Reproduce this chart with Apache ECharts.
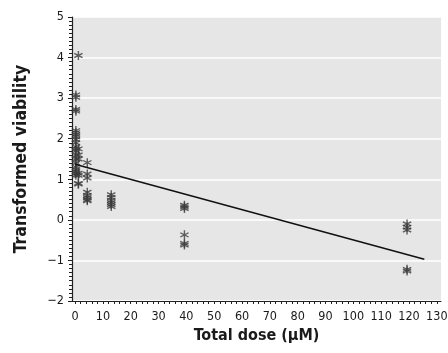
<!DOCTYPE html>
<html><head><meta charset="utf-8">
<script src="https://cdn.jsdelivr.net/npm/echarts@6/dist/echarts.min.js"></script>
<style>html,body{margin:0;padding:0;background:#fff}#c{width:448px;height:353px}</style>
</head><body><div id="c"></div>
<script>
// Data
const doses = [
  0.3,0.3,0.3,0.3,0.3,0.3,0.3,0.3,0.3,0.3,0.3,0.3,0.3,0.3,0.3,0.3,0.3,0.3,0.3,0.3,0.3,
  1.2,1.2,1.2,1.2,1.2,1.2,1.2,1.2,
  4.4,4.4,4.4,4.4,4.4,4.4,4.4,4.4,
  13,13,13,13,13,13,
  39.3,39.3,39.3,39.3,39.3,39.3,
  119.3,119.3,119.3,119.3,119.3
];
const viability = [
  3.08,3.02,2.72,2.68,2.2,2.15,2.1,2.05,1.98,1.9,1.8,1.75,1.7,1.6,1.5,1.4,1.3,1.25,1.2,1.15,1.1,
  4.05,1.75,1.6,1.5,1.15,1.1,0.9,0.88,
  1.41,1.13,1.03,0.68,0.6,0.55,0.5,0.47,
  0.62,0.55,0.48,0.43,0.38,0.33,
  0.36,0.32,0.28,-0.37,-0.58,-0.62,
  -0.1,-0.18,-0.25,-1.22,-1.26
];
const fitX = [0, 125.5];
const fitY = [1.37, -0.97];
const xTickLabels = [0,10,20,30,40,50,60,70,80,90,100,110,120,130];
const xMinorTicks = [];
for (let v = 0; v <= 130; v += 2) xMinorTicks.push(v);

const FONT = '"DejaVu Sans Condensed","Liberation Sans Narrow","Liberation Sans",sans-serif';
const star = 'path://M8.5,0L11.5,0L11.5,20L8.5,20Z M0.5,6.6L2,4L19.5,13.4L18,16Z M18,4L19.5,6.6L2,16L0.5,13.4Z';

const chart = echarts.init(document.getElementById('c'), null, {renderer: 'canvas'});
chart.setOption({
  animation: false,
  grid: {left: 72, right: 7, top: 17, bottom: 52, show: true, backgroundColor: '#e6e6e6', borderWidth: 0,
         outerBoundsMode: 'none', containLabel: false},
  xAxis: {
    type: 'value', min: -1.1, max: 131.5,
    name: 'Total dose (\u03bcM)', nameLocation: 'middle', nameGap: 27,
    nameTextStyle: {fontFamily: FONT, fontWeight: 'bold', fontSize: 16, color: '#1a1a1a', verticalAlign: 'top'},
    axisLine: {show: true, onZero: false, lineStyle: {color: '#222', width: 1.2}},
    axisTick: {show: true, customValues: xMinorTicks, length: 3, lineStyle: {color: '#222'}},
    axisLabel: {customValues: xTickLabels, fontFamily: FONT, fontSize: 12.5, color: '#1a1a1a', margin: 9, hideOverlap: false},
    splitLine: {show: false}
  },
  yAxis: {
    type: 'value', min: -2, max: 5, interval: 1,
    name: 'Transformed viability', nameLocation: 'middle', nameGap: 42,
    nameTextStyle: {fontFamily: FONT, fontWeight: 'bold', fontSize: 17.5, color: '#1a1a1a'},
    axisLine: {show: true, onZero: false, lineStyle: {color: '#222', width: 1.2}},
    axisTick: {show: true, length: 4, lineStyle: {color: '#222'}},
    minorTick: {show: true, splitNumber: 10, length: 3, lineStyle: {color: '#222'}},
    axisLabel: {fontFamily: FONT, fontSize: 12.5, color: '#1a1a1a', margin: 8,
                formatter: v => String(v).replace('-', '\u2212')},
    splitLine: {show: true, lineStyle: {color: '#ffffff', width: 1.5}}
  },
  series: [
    {
      type: 'line', data: fitX.map((x, i) => [x, fitY[i]]), symbol: 'none',
      lineStyle: {color: '#111', width: 1.5}, z: 3
    },
    {
      type: 'scatter', data: doses.map((x, i) => [x, viability[i]]),
      symbol: star, symbolSize: 9, itemStyle: {color: '#3a3a3a'}, z: 2
    }
  ]
});
</script></body></html>
